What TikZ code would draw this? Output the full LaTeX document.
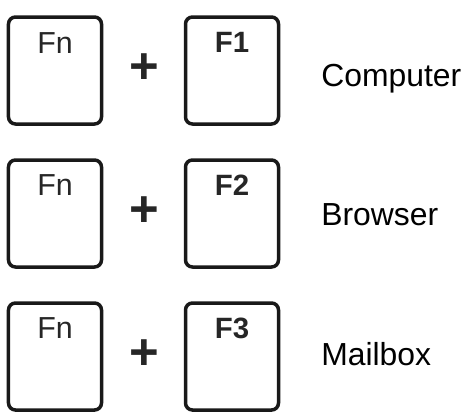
\documentclass[tikz,border=0pt]{standalone}
\usepackage{fontspec}
\setmainfont{Liberation Sans}
\usetikzlibrary{positioning,calc}

\tikzset{
  key/.style={draw=black!90,rounded corners=7bp,minimum width=93bp,minimum height=107bp,outer sep=0pt,inner sep=0pt},
  fntext/.style={anchor=base,inner sep=0pt,font=\fontsize{30.5}{36}\selectfont,text=black!85},
  ftext/.style={anchor=base,inner sep=0pt,font=\fontsize{29.5}{36}\selectfont\bfseries,text=black!85},
  plus/.style={inner sep=0pt,font=\fontsize{51}{60}\selectfont\bfseries,text=black!85},
  action/.style={anchor=base west,inner sep=0pt,font=\fontsize{32}{38}\selectfont}
}

\begin{document}
\begin{tikzpicture}[line width=3.5bp,x=1bp,y=1bp]
                \useasboundingbox (0,0) rectangle (472,-419);
                \node[key] (k1) at (55,-70.5) {};
                \node[key,below=36bp of k1] (k2) {};
                \node[key,below=36bp of k2] (k3) {};
                \node[key,right=84bp of k1] (f1) {};
                \node[key,right=84bp of k2] (f2) {};
                \node[key,right=84bp of k3] (f3) {};
                \node[fntext] (n1) at ([yshift=-36bp]k1.north) {Fn};
                \node[fntext] (n2) at ([yshift=-35bp]k2.north) {Fn};
                \node[fntext] (n3) at ([yshift=-35bp]k3.north) {Fn};
                \node[ftext] (t1) at ([yshift=-35bp]f1.north) {F1};
                \node[ftext] (t2) at ([yshift=-35bp]f2.north) {F2};
                \node[ftext] (t3) at ([yshift=-35bp]f3.north) {F3};
                \node[plus] (p1) at ($(k1)!0.5!(f1)+(0.5,1.5)$) {+};
                \node[plus] (p2) at ($(k2)!0.5!(f2)+(0.5,1.5)$) {+};
                \node[plus] (p3) at ($(k3)!0.5!(f3)+(0.5,1.5)$) {+};
                \node[action] (a1) at ([xshift=41bp,yshift=-15.5bp]f1.east) {Computer};
                \node[action] (a2) at ([xshift=41bp,yshift=-11.5bp]f2.east) {Browser};
                \node[action] (a3) at ([xshift=41bp,yshift=-8.5bp]f3.east) {Mailbox};
            \end{tikzpicture}
\end{document}
